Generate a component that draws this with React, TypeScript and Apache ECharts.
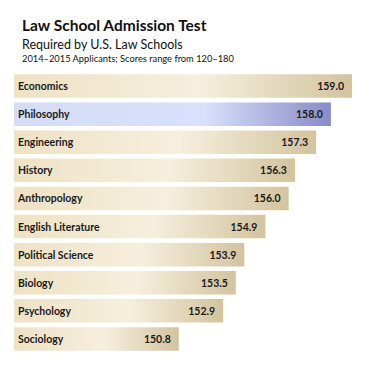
import React, { useEffect, useRef } from "react";
import * as echarts from "echarts";

const categories = [
  "Economics",
  "Philosophy",
  "Engineering",
  "History",
  "Anthropology",
  "English Literature",
  "Political Science",
  "Biology",
  "Psychology",
  "Sociology",
];
const scores = [159.0, 158.0, 157.3, 156.3, 156.0, 154.9, 153.9, 153.5, 152.9, 150.8];
const highlight = "Philosophy";

const titleText = "Law School Admission Test";
const subtitleText = "Required by U.S. Law Schools";
const noteText = "2014\u20132015 Applicants; Scores range from 120\u2013180";

const FONT = "Lato, 'Open Sans', sans-serif";

export default function App() {
  const ref = useRef<HTMLDivElement>(null);
  useEffect(() => {
    if (!ref.current) return;
    const chart = echarts.init(ref.current, undefined, { renderer: "svg" });
    const tan = new echarts.graphic.LinearGradient(0, 0, 1, 0, [
      { offset: 0, color: "#eee2c4" },
      { offset: 0.55, color: "#f6efde" },
      { offset: 1, color: "#d3c49f" },
    ]);
    const blue = new echarts.graphic.LinearGradient(0, 0, 1, 0, [
      { offset: 0, color: "#d4dcf6" },
      { offset: 0.6, color: "#d9e0fb" },
      { offset: 1, color: "#878bc6" },
    ]);
    chart.setOption({
      animation: false,
      backgroundColor: "#ffffff",
      title: [
        {
          text: titleText,
          left: 17,
          top: 12,
          textStyle: { fontFamily: FONT, fontWeight: "bold", fontSize: 15.5, color: "#111" },
        },
        {
          text: subtitleText,
          left: 17,
          top: 33,
          textStyle: { fontFamily: FONT, fontWeight: "normal", fontSize: 12.5, color: "#111" },
        },
        {
          text: noteText,
          left: 17,
          top: 48.5,
          textStyle: { fontFamily: FONT, fontWeight: "normal", fontSize: 9.3, color: "#111" },
        },
      ],
      grid: { left: 14, right: 32, top: 72, height: 281, containLabel: false },
      xAxis: {
        type: "value",
        min: 143,
        max: 159,
        show: false,
      },
      yAxis: {
        type: "category",
        data: categories,
        inverse: true,
        show: false,
      },
      series: [
        {
          type: "bar",
          barWidth: 23.5,
          data: scores.map((v, i) => ({
            value: v,
            itemStyle: { color: categories[i] === highlight ? blue : tan },
          })),
          label: {
            show: true,
            position: "insideRight",
            distance: 8,
            formatter: (p: any) => Number(p.value).toFixed(1),
            fontFamily: FONT,
            fontWeight: "bold",
            fontSize: 10.5,
            color: "#1a1a1a",
          },
        },
        {
          type: "bar",
          barWidth: 23.5,
          barGap: "-100%",
          data: scores,
          itemStyle: { color: "rgba(0,0,0,0)" },
          label: {
            show: true,
            position: "insideLeft",
            distance: 4,
            formatter: (p: any) => p.name,
            fontFamily: FONT,
            fontWeight: "bold",
            fontSize: 10.5,
            color: "#1a1a1a",
          },
          silent: true,
        },
      ],
    });
    return () => chart.dispose();
  }, []);
  return (
    <div
      ref={ref}
      style={{ position: "absolute", left: 0, top: 0, width: 384, height: 374 }}
    />
  );
}
